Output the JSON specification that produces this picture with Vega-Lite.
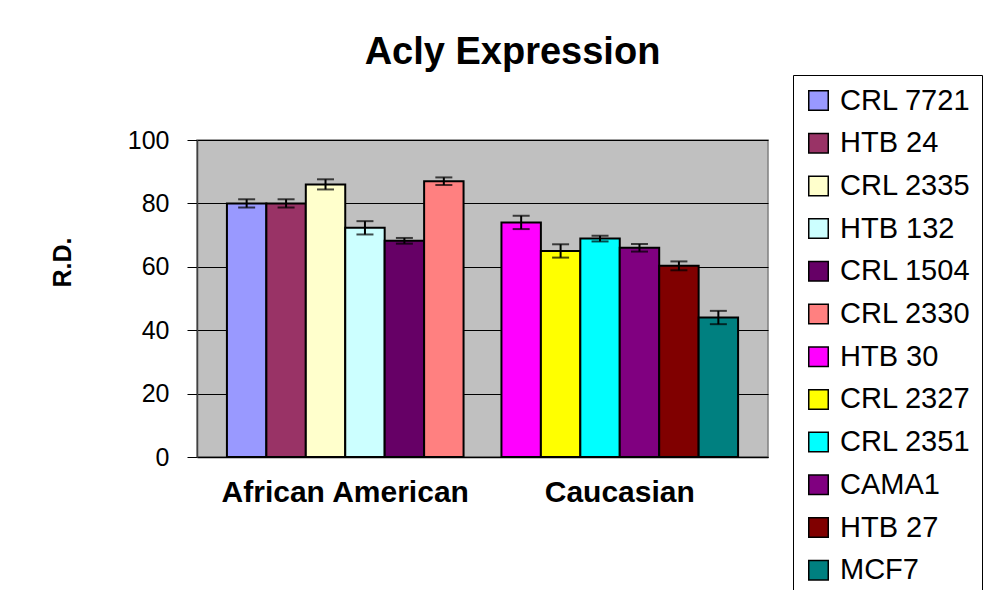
{
  "$schema": "https://vega.github.io/schema/vega-lite/v6.json",
  "autosize": "none",
  "width": 571,
  "height": 317,
  "padding": {"left": 197, "top": 140, "right": 239, "bottom": 133},
  "background": "white",
  "title": {
    "text": "Acly Expression",
    "font": "Liberation Sans",
    "fontSize": 38,
    "fontWeight": "bold",
    "color": "black",
    "anchor": "middle",
    "baseline": "alphabetic",
    "dx": 30,
    "offset": -27
  },
  "config": {
    "view": {"fill": "#C0C0C0", "stroke": "#808080", "strokeWidth": 1.5},
    "font": "Liberation Sans"
  },
  "data": {
    "values": [
      {"group": "African American", "line": "CRL 7721", "pos": 0, "value": 80, "lo": 78.7, "hi": 81.3},
      {"group": "African American", "line": "HTB 24", "pos": 1, "value": 80, "lo": 78.7, "hi": 81.3},
      {"group": "African American", "line": "CRL 2335", "pos": 2, "value": 86, "lo": 84.4, "hi": 87.6},
      {"group": "African American", "line": "HTB 132", "pos": 3, "value": 72.3, "lo": 70.2, "hi": 74.4},
      {"group": "African American", "line": "CRL 1504", "pos": 4, "value": 68.2, "lo": 67.3, "hi": 69.1},
      {"group": "African American", "line": "CRL 2330", "pos": 5, "value": 87, "lo": 85.8, "hi": 88.2},
      {"group": "Caucasian", "line": "HTB 30", "pos": 0, "value": 74, "lo": 71.9, "hi": 76.1},
      {"group": "Caucasian", "line": "CRL 2327", "pos": 1, "value": 65, "lo": 62.9, "hi": 67.1},
      {"group": "Caucasian", "line": "CRL 2351", "pos": 2, "value": 68.9, "lo": 68.0, "hi": 69.8},
      {"group": "Caucasian", "line": "CAMA1", "pos": 3, "value": 66, "lo": 64.8, "hi": 67.2},
      {"group": "Caucasian", "line": "HTB 27", "pos": 4, "value": 60.3, "lo": 58.9, "hi": 61.7},
      {"group": "Caucasian", "line": "MCF7", "pos": 5, "value": 44, "lo": 41.9, "hi": 46.1}
    ]
  },
  "encoding": {
    "x": {
      "field": "group",
      "type": "nominal",
      "scale": {"paddingInner": 0.138, "paddingOuter": 0.109},
      "axis": {
        "title": null,
        "labelAngle": 0,
        "labelFont": "Liberation Sans",
        "labelFontSize": 30,
        "labelFontWeight": "bold",
        "labelColor": "black",
        "labelPadding": 20,
        "labelLimit": 500,
        "ticks": false,
        "domainColor": "black",
        "domainWidth": 1.5
      }
    },
    "xOffset": {
      "field": "pos",
      "type": "ordinal",
      "scale": {"paddingInner": 0, "paddingOuter": 0}
    }
  },
  "layer": [
    {
      "mark": {"type": "bar", "stroke": "black", "strokeWidth": 2},
      "encoding": {
        "y": {
          "field": "value",
          "type": "quantitative",
          "scale": {"domain": [0, 100]},
          "axis": {
            "values": [0, 20, 40, 60, 80, 100],
            "title": "R.D.",
            "titleFont": "Liberation Sans",
            "titleFontSize": 25,
            "titleFontWeight": "bold",
            "titleColor": "black",
            "titleAngle": 270,
            "titleBaseline": "middle",
            "titleAlign": "center",
            "titleX": -135,
            "titleY": 122,
            "labelFont": "Liberation Sans",
            "labelFontSize": 25,
            "labelColor": "black",
            "labelPadding": 18,
            "tickSize": 10,
            "tickColor": "black",
            "domainColor": "#404040",
            "domainWidth": 1.5,
            "grid": true,
            "gridColor": "black",
            "gridWidth": 1
          }
        },
        "color": {
          "field": "line",
          "type": "nominal",
          "scale": {
            "domain": ["CRL 7721", "HTB 24", "CRL 2335", "HTB 132", "CRL 1504", "CRL 2330", "HTB 30", "CRL 2327", "CRL 2351", "CAMA1", "HTB 27", "MCF7"],
            "range": ["#9999FF", "#993366", "#FFFFCC", "#CCFFFF", "#660066", "#FF8080", "#FF00FF", "#FFFF00", "#00FFFF", "#800080", "#800000", "#008080"]
          },
          "legend": {
            "title": null,
            "orient": "none",
            "legendX": 596,
            "legendY": -65,
            "padding": 11,
            "strokeColor": "black",
            "fillColor": "white",
            "symbolType": "square",
            "symbolSize": 380,
            "symbolStrokeColor": "black",
            "symbolStrokeWidth": 1.5,
            "labelFont": "Liberation Sans",
            "labelFontSize": 29,
            "labelColor": "black",
            "labelOffset": 7,
            "rowPadding": 12.7,
            "labelLimit": 300
          }
        }
      }
    },
    {
      "mark": {"type": "rule", "color": "black", "strokeWidth": 2},
      "encoding": {
        "y": {"field": "lo", "type": "quantitative"},
        "y2": {"field": "hi"}
      }
    },
    {
      "mark": {"type": "tick", "color": "black", "thickness": 2, "size": 17, "orient": "horizontal"},
      "encoding": {
        "y": {"field": "lo", "type": "quantitative"}
      }
    },
    {
      "mark": {"type": "tick", "color": "black", "thickness": 2, "size": 17, "orient": "horizontal"},
      "encoding": {
        "y": {"field": "hi", "type": "quantitative"}
      }
    }
  ]
}
